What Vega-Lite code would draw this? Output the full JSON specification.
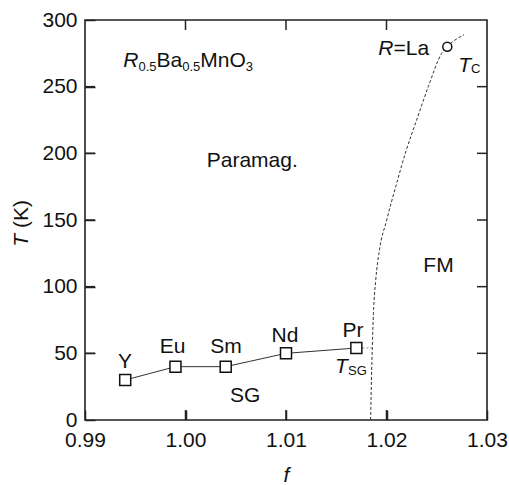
{
  "$schema": "https://vega.github.io/schema/vega-lite/v6.json",
  "width": 402,
  "height": 400,
  "autosize": {"type": "none"},
  "padding": {"left": 85, "top": 20, "right": 22, "bottom": 65},
  "background": "white",
  "config": {
    "font": "Liberation Sans",
    "view": {"stroke": "#222", "strokeWidth": 1.6},
    "axis": {
      "grid": false,
      "labelFont": "Liberation Sans",
      "labelFontSize": 21,
      "labelColor": "#111",
      "titleFont": "Liberation Sans",
      "titleFontSize": 21,
      "titleFontWeight": "normal",
      "titleColor": "#111"
    }
  },
  "datasets": {
    "pts": [
      {"f": 0.994, "T": 30, "R": "Y"},
      {"f": 0.999, "T": 40, "R": "Eu"},
      {"f": 1.004, "T": 40, "R": "Sm"},
      {"f": 1.010, "T": 50, "R": "Nd"},
      {"f": 1.017, "T": 54, "R": "Pr"}
    ],
    "curve": [
      {"f": 1.01842, "T": 0},
      {"f": 1.01850, "T": 30},
      {"f": 1.01859, "T": 55},
      {"f": 1.01870, "T": 80},
      {"f": 1.01893, "T": 105},
      {"f": 1.01930, "T": 127.5},
      {"f": 1.02002, "T": 150},
      {"f": 1.02101, "T": 177.5},
      {"f": 1.02191, "T": 201},
      {"f": 1.02300, "T": 225},
      {"f": 1.02416, "T": 250},
      {"f": 1.02549, "T": 275},
      {"f": 1.02605, "T": 280},
      {"f": 1.02771, "T": 289}
    ],
    "tie": [
      {"f": 1.0172, "T": 54},
      {"f": 1.01859, "T": 54}
    ],
    "la": [{"f": 1.02605, "T": 280}],
    "xticks": [{"f": 1.00}, {"f": 1.01}, {"f": 1.02}],
    "yticks": [{"T": 50}, {"T": 100}, {"T": 150}, {"T": 200}, {"T": 250}],
    "roman": [
      {"f": 0.997114, "T": 265, "text": "Ba"},
      {"f": 1.001463, "T": 265, "text": "MnO"},
      {"f": 1.020700, "T": 273.75, "text": "=La"},
      {"f": 1.00211, "T": 190, "text": "Paramag."},
      {"f": 1.023662, "T": 111.2, "text": "FM"},
      {"f": 1.004428, "T": 13.7, "text": "SG"}
    ],
    "italic": [
      {"f": 0.993811, "T": 265, "text": "R"},
      {"f": 1.019184, "T": 273.75, "text": "R"},
      {"f": 1.027144, "T": 261.2, "text": "T"},
      {"f": 1.014876, "T": 35, "text": "T"}
    ],
    "sub": [
      {"f": 0.995323, "T": 262, "text": "0.5"},
      {"f": 0.999672, "T": 262, "text": "0.5"},
      {"f": 1.00599, "T": 262, "text": "3"},
      {"f": 1.028408, "T": 260, "text": "C"},
      {"f": 1.016169, "T": 34, "text": "SG"}
    ],
    "centered": [
      {"f": 0.99398, "T": 38.8, "text": "Y"},
      {"f": 0.998706, "T": 50, "text": "Eu"},
      {"f": 1.00403, "T": 50, "text": "Sm"},
      {"f": 1.0099, "T": 58.7, "text": "Nd"},
      {"f": 1.016667, "T": 62, "text": "Pr"}
    ],
    "ytitleItalic": [{"f": 0.984328, "T": 130, "text": "T"}],
    "ytitleRoman": [{"f": 0.984328, "T": 144, "text": "(K)"}]
  },
  "layer": [
    {
      "data": {"name": "pts"},
      "mark": {"type": "line", "color": "#333", "strokeWidth": 1},
      "encoding": {
        "x": {
          "field": "f", "type": "quantitative",
          "scale": {"domain": [0.99, 1.03], "nice": false, "zero": false},
          "axis": {
            "orient": "bottom",
            "values": [0.99, 1.0, 1.01, 1.02, 1.03],
            "format": ".2f",
            "title": "f",
            "titleFontStyle": "italic",
            "titlePadding": 14,
            "labelFlush": false,
            "labelOverlap": false,
            "labelPadding": 9,
            "domain": false,
            "tickColor": "#222",
            "tickWidth": 1.5,
            "tickSize": 10,
            "offset": -10
          }
        },
        "y": {
          "field": "T", "type": "quantitative",
          "scale": {"domain": [0, 300], "nice": false},
          "axis": {
            "orient": "left",
            "values": [0, 50, 100, 150, 200, 250, 300],
            "title": null,
            "labelOverlap": false,
            "labelPadding": 8,
            "domain": false,
            "tickColor": "#222",
            "tickWidth": 1.5,
            "tickSize": 10,
            "offset": -10
          }
        }
      }
    },
    {
      "data": {"name": "xticks"},
      "mark": {"type": "rule", "color": "#222", "strokeWidth": 1.5},
      "encoding": {
        "x": {"field": "f", "type": "quantitative"},
        "y": {"datum": 0, "type": "quantitative"},
        "y2": {"datum": 7.5}
      }
    },
    {
      "data": {"name": "xticks"},
      "mark": {"type": "rule", "color": "#222", "strokeWidth": 1.5},
      "encoding": {
        "x": {"field": "f", "type": "quantitative"},
        "y": {"datum": 292.5, "type": "quantitative"},
        "y2": {"datum": 300}
      }
    },
    {
      "data": {"name": "yticks"},
      "mark": {"type": "rule", "color": "#222", "strokeWidth": 1.5},
      "encoding": {
        "y": {"field": "T", "type": "quantitative"},
        "x": {"datum": 0.99, "type": "quantitative"},
        "x2": {"datum": 0.990995}
      }
    },
    {
      "data": {"name": "yticks"},
      "mark": {"type": "rule", "color": "#222", "strokeWidth": 1.5},
      "encoding": {
        "y": {"field": "T", "type": "quantitative"},
        "x": {"datum": 1.029005, "type": "quantitative"},
        "x2": {"datum": 1.03}
      }
    },
    {
      "data": {"name": "curve"},
      "mark": {"type": "line", "color": "#333", "strokeWidth": 1, "strokeDash": [3, 2], "interpolate": "monotone"},
      "encoding": {
        "x": {"field": "f", "type": "quantitative"},
        "y": {"field": "T", "type": "quantitative"},
        "order": {"field": "T", "type": "quantitative"}
      }
    },
    {
      "data": {"name": "tie"},
      "mark": {"type": "line", "color": "#888", "strokeWidth": 1, "strokeDash": [2, 2]},
      "encoding": {
        "x": {"field": "f", "type": "quantitative"},
        "y": {"field": "T", "type": "quantitative"}
      }
    },
    {
      "data": {"name": "pts"},
      "mark": {"type": "point", "shape": "square", "size": 121, "filled": true, "fill": "white", "stroke": "#111", "strokeWidth": 1.5, "opacity": 1},
      "encoding": {
        "x": {"field": "f", "type": "quantitative"},
        "y": {"field": "T", "type": "quantitative"}
      }
    },
    {
      "data": {"name": "la"},
      "mark": {"type": "point", "shape": "circle", "size": 81, "filled": true, "fill": "white", "stroke": "#111", "strokeWidth": 1.5, "opacity": 1},
      "encoding": {
        "x": {"field": "f", "type": "quantitative"},
        "y": {"field": "T", "type": "quantitative"}
      }
    },
    {
      "data": {"name": "roman"},
      "mark": {"type": "text", "align": "left", "baseline": "alphabetic", "fontSize": 21, "font": "Liberation Sans", "color": "#111"},
      "encoding": {
        "x": {"field": "f", "type": "quantitative"},
        "y": {"field": "T", "type": "quantitative"},
        "text": {"field": "text"}
      }
    },
    {
      "data": {"name": "italic"},
      "mark": {"type": "text", "align": "left", "baseline": "alphabetic", "fontSize": 21, "fontStyle": "italic", "font": "Liberation Sans", "color": "#111"},
      "encoding": {
        "x": {"field": "f", "type": "quantitative"},
        "y": {"field": "T", "type": "quantitative"},
        "text": {"field": "text"}
      }
    },
    {
      "data": {"name": "sub"},
      "mark": {"type": "text", "align": "left", "baseline": "alphabetic", "fontSize": 13, "font": "Liberation Sans", "color": "#111"},
      "encoding": {
        "x": {"field": "f", "type": "quantitative"},
        "y": {"field": "T", "type": "quantitative"},
        "text": {"field": "text"}
      }
    },
    {
      "data": {"name": "centered"},
      "mark": {"type": "text", "align": "center", "baseline": "alphabetic", "fontSize": 21, "font": "Liberation Sans", "color": "#111"},
      "encoding": {
        "x": {"field": "f", "type": "quantitative"},
        "y": {"field": "T", "type": "quantitative"},
        "text": {"field": "text"}
      }
    },
    {
      "data": {"name": "ytitleItalic"},
      "mark": {"type": "text", "align": "left", "baseline": "alphabetic", "fontSize": 21, "fontStyle": "italic", "angle": 270, "font": "Liberation Sans", "color": "#111"},
      "encoding": {
        "x": {"field": "f", "type": "quantitative"},
        "y": {"field": "T", "type": "quantitative"},
        "text": {"field": "text"}
      }
    },
    {
      "data": {"name": "ytitleRoman"},
      "mark": {"type": "text", "align": "left", "baseline": "alphabetic", "fontSize": 21, "angle": 270, "font": "Liberation Sans", "color": "#111"},
      "encoding": {
        "x": {"field": "f", "type": "quantitative"},
        "y": {"field": "T", "type": "quantitative"},
        "text": {"field": "text"}
      }
    }
  ]
}
